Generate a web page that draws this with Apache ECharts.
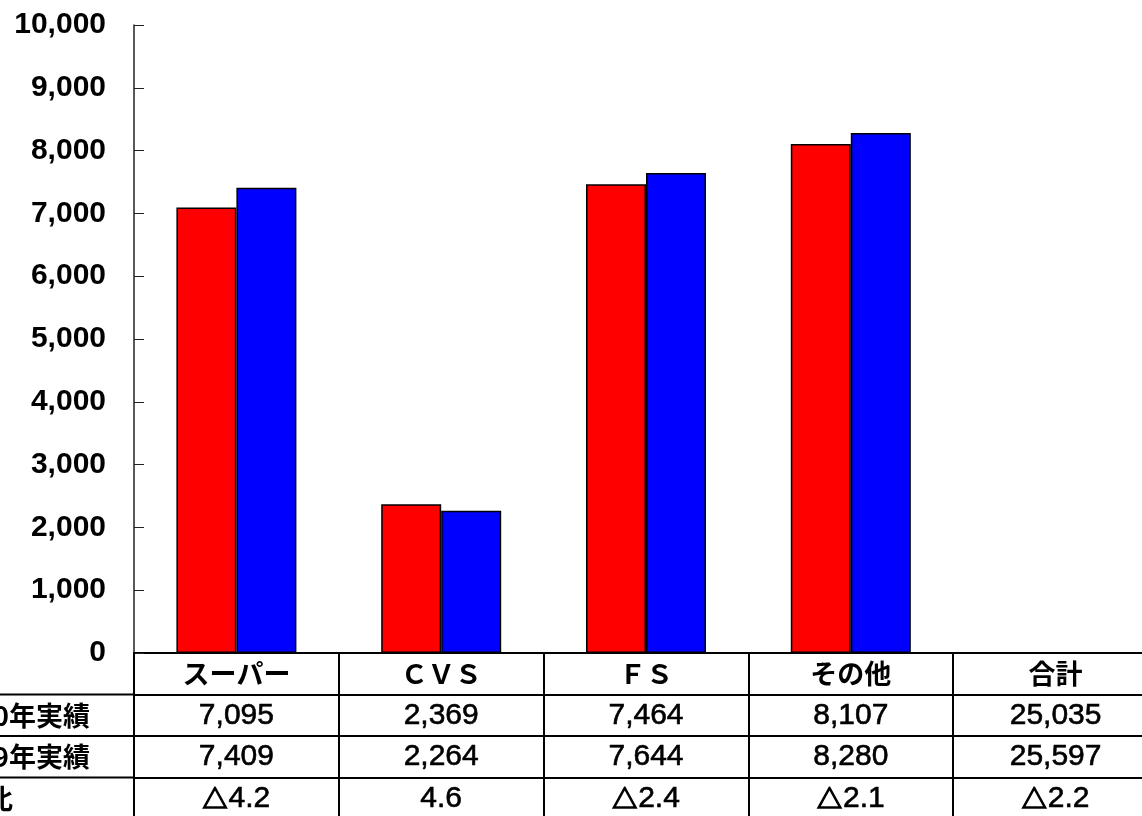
<!DOCTYPE html>
<html>
<head>
<meta charset="utf-8">
<script src="https://cdn.jsdelivr.net/npm/echarts@6/dist/echarts.min.js"></script>
<style>
  html, body { margin: 0; padding: 0; background: #fff; }
  #main { width: 1142px; height: 816px; }
</style>
</head>
<body>
<div id="main"></div>
<script>
// categories (table header) and the two yearly series
var categories = ['スーパー', 'ＣＶＳ', 'ＦＳ', 'その他', '合計'];
var currentYear = [7095, 2369, 7464, 8107, 25035];
var previousYear = [7409, 2264, 7644, 8280, 25597];
var ratioLabels = ['△4.2', '4.6', '△2.4', '△2.1', '△2.2'];
var rowLabels = ['30年実績', '29年実績', '前年比'];

var gridLeft = 134, gridTop = 25, axisY = 653, rowH = 41.5;
var numFont = "'Liberation Sans', 'Noto Sans CJK JP', sans-serif";
var jpFont = "'Noto Sans CJK JP', sans-serif";

function fmt(v) { return Number(v).toLocaleString('en-US'); }
// the total column is only in the table, it has no bars
function barData(arr) {
  return arr.map(function (v, i) { return categories[i] === '合計' ? null : v; });
}

function tableAxis(offset, formatter, bold, font, size, rich) {
  return {
    type: 'category',
    gridIndex: 0,
    position: 'bottom',
    offset: offset,
    data: categories,
    axisLine: { show: true, lineStyle: { color: '#000', width: 2 } },
    axisTick: { show: true, inside: false, length: rowH, interval: 0, lineStyle: { color: '#000', width: 2 } },
    axisLabel: {
      interval: 0,
      margin: rowH / 2,
      verticalAlign: 'middle',
      color: '#000',
      fontFamily: font,
      fontWeight: bold ? 'bold' : 'normal',
      fontSize: size,
      textBorderColor: '#000',
      textBorderWidth: bold ? 0 : 0.6,
      formatter: formatter,
      rich: rich || {}
    },
    splitLine: { show: false }
  };
}

var chart = echarts.init(document.getElementById('main'), null, { renderer: 'canvas' });

var graphics = [];
[1, 2, 3].forEach(function (k) {
  graphics.push({
    type: 'line',
    shape: { x1: 0, y1: axisY + rowH * k, x2: gridLeft, y2: axisY + rowH * k },
    style: { stroke: '#000', lineWidth: 2 }
  });
});
var labelRight = [90, 90, 13];
rowLabels.forEach(function (t, i) {
  graphics.push({
    type: 'text',
    x: labelRight[i],
    y: axisY + rowH * (i + 1.5),
    style: {
      text: t, align: 'right', verticalAlign: 'middle',
      font: 'bold 27px ' + jpFont, fill: '#000'
    }
  });
});

chart.setOption({
  animation: false,
  backgroundColor: '#fff',
  grid: {
    left: gridLeft, width: 1024, top: gridTop, bottom: 816 - axisY,
    containLabel: false, outerBoundsMode: 'none'
  },
  xAxis: [
    tableAxis(0, function (v) { return v; }, true, jpFont, 27),
    tableAxis(rowH, function (v, i) { return fmt(currentYear[i]); }, false, numFont, 30),
    tableAxis(rowH * 2, function (v, i) { return fmt(previousYear[i]); }, false, numFont, 30),
    tableAxis(rowH * 3, function (v, i) {
      var s = ratioLabels[i];
      return s.charAt(0) === '△' ? '{tri|△}' + s.slice(1) : s;
    }, false, numFont, 30, {
      tri: {
        fontFamily: jpFont, fontSize: 25, fontWeight: 'bold', color: '#000',
        textBorderColor: '#000', textBorderWidth: 1.4, padding: [0, 1, 0, 0]
      }
    })
  ],
  yAxis: {
    type: 'value',
    min: 0,
    max: 10000,
    interval: 1000,
    axisLine: { show: true, lineStyle: { color: '#222', width: 1.5 } },
    axisTick: { show: true, inside: true, length: 10, lineStyle: { color: '#222', width: 1 } },
    splitLine: { show: false },
    axisLabel: {
      margin: 28,
      color: '#000',
      fontFamily: numFont,
      fontWeight: 'bold',
      fontSize: 30,
      formatter: fmt
    }
  },
  series: [
    {
      type: 'bar',
      xAxisIndex: 0,
      data: barData(currentYear),
      barWidth: 60,
      barGap: '0%',
      itemStyle: { color: '#ff0000', borderColor: '#000', borderWidth: 1.5 }
    },
    {
      type: 'bar',
      xAxisIndex: 0,
      data: barData(previousYear),
      barWidth: 60,
      barGap: '0%',
      itemStyle: { color: '#0000ff', borderColor: '#000', borderWidth: 1.5 }
    }
  ],
  graphic: graphics
});
</script>
</body>
</html>
